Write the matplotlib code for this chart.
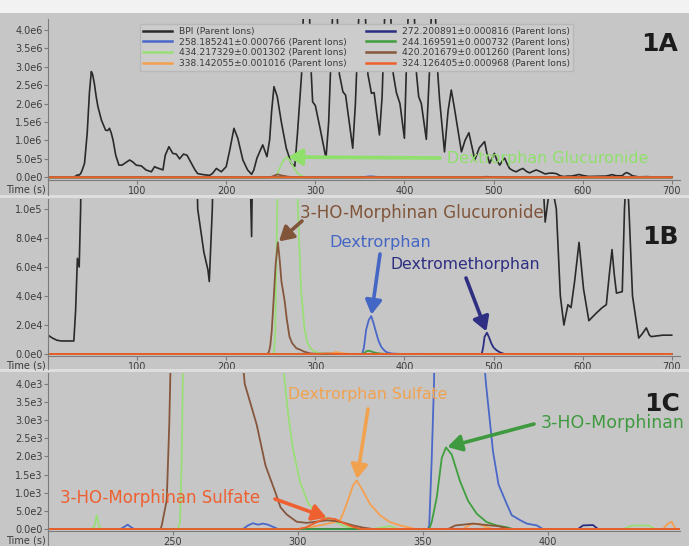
import matplotlib
matplotlib.use('Agg')
import matplotlib.pyplot as plt
import numpy as np
from matplotlib.lines import Line2D
from matplotlib.patches import Rectangle
from matplotlib.ticker import FuncFormatter

# ---------------- data ----------------
# BPI (Parent Ions): time (s), intensity (x1e6)
bpi_t = [0, 5, 10, 15, 20, 29, 31, 33, 35, 36.6, 38, 41, 44, 46.5, 48.6, 50, 52, 54, 56, 60,
         64.6, 67, 69, 71, 73, 76, 79.6, 83, 86, 91.6, 95, 99, 104.7, 110, 116, 119.6, 122,
         124.5, 129, 131.6, 135.7, 140, 144, 147.7, 152, 156, 161, 165, 168, 175, 179.5, 181,
         184.4, 189, 194.5, 200, 204, 208.7, 213, 218.7, 224, 228.5, 231, 234.5, 237.5, 241,
         245.7, 248.7, 251, 253.6, 257.3, 261.8, 267.4, 273, 277, 280, 284.6, 287, 290, 293,
         295.5, 297, 300, 305, 312, 315, 318, 321, 324, 327, 331, 334, 342, 345, 349, 352, 356,
         359, 363, 366, 372, 375, 378, 382, 385, 387.5, 391, 395, 400, 402, 405, 408, 411,
         413.6, 416, 419, 424.6, 428, 431, 433, 435.5, 437.5, 439.5, 445, 449, 452.6, 456, 460,
         464, 468, 472.4, 476, 479, 484, 490, 493, 495.6, 498, 501, 504, 507, 510, 512.6, 515,
         518, 522, 525.6, 529, 533, 537, 540.5, 544, 548, 552, 555.5, 558, 562, 566, 570.5,
         575, 579, 583.5, 587, 591, 596, 601, 607, 615, 622, 626.6, 630, 633, 635.5, 638,
         644.5, 647, 649.5, 652, 656, 663, 667, 671.5, 675, 677, 690, 700]
bpi_v = [0.013, 0.011, 0.0095, 0.009, 0.009, 0.009, 0.03, 0.066, 0.060, 0.10, 0.17, 0.38, 1.2,
         2.3, 2.87, 2.8, 2.55, 2.2, 1.92, 1.55, 1.28, 1.27, 1.33, 1.2, 1.01, 0.6, 0.33, 0.33,
         0.38, 0.47, 0.42, 0.33, 0.31, 0.2, 0.15, 0.29, 0.26, 0.24, 0.2, 0.6, 0.83, 0.65, 0.63,
         0.5, 0.63, 0.6, 0.38, 0.2, 0.10, 0.07, 0.058, 0.05, 0.10, 0.24, 0.15, 0.29, 0.74, 1.33,
         1.06, 0.47, 0.2, 0.081, 0.2, 0.52, 0.69, 0.88, 0.56, 1.01, 1.8, 2.46, 2.19, 1.51, 0.79,
         0.38, 0.3, 1.2, 2.8, 4.8, 6.2, 4.8, 2.8, 2.05, 1.95, 1.37, 0.52, 1.5, 3.5, 5.5, 4.8,
         2.8, 2.32, 2.23, 0.79, 2.0, 4.5, 6.0, 4.5, 2.8, 2.28, 2.3, 1.15, 2.2, 4.5, 5.8, 4.2,
         2.8, 2.3, 2.0, 1.06, 2.8, 5.0, 6.3, 4.5, 2.8, 2.19, 2.0, 1.03, 2.8, 5.0, 5.5, 4.0, 2.8,
         2.1, 0.69, 1.8, 2.37, 1.9, 1.3, 0.69, 1.0, 1.21, 0.8, 0.47, 0.8, 0.97, 0.6, 0.38, 0.5,
         0.65, 0.45, 0.33, 0.45, 0.52, 0.38, 0.24, 0.18, 0.15, 0.2, 0.24, 0.16, 0.12, 0.16, 0.2,
         0.16, 0.12, 0.091, 0.11, 0.115, 0.1, 0.04, 0.020, 0.034, 0.032, 0.05, 0.077, 0.045,
         0.023, 0.028, 0.032, 0.034, 0.055, 0.072, 0.055, 0.042, 0.043, 0.1, 0.13, 0.1, 0.04,
         0.011, 0.014, 0.018, 0.013, 0.012, 0.013, 0.013]

# 258.185241 (Dextrorphan): time, counts
m258_t = [0, 229, 230.5, 231.9, 233, 234.5, 278, 280, 282, 284, 286, 288, 290, 292, 352, 352.5,
          353.5, 354.4, 355.5, 357, 360, 362.8, 365, 368.5, 371, 374, 375.2, 378, 380.2, 383.5,
          385.5, 389, 391.5, 395.5, 398, 700]
m258_v = [0, 0, 60, 120, 60, 0, 0, 100, 160, 120, 150, 120, 60, 0, 0, 100, 1960, 4000, 9000,
          16600, 23500, 26200, 22000, 14300, 9000, 5000, 4000, 2140, 1230, 690, 380, 240, 150,
          100, 0, 0]

# 434.217329 (Dextrorphan Glucuronide)
m434_t = [0, 217, 218.5, 219.5, 220.5, 222, 252, 252.8, 253.5, 254, 255, 257.3, 260, 264, 268,
          272, 276, 280.5, 284, 288, 291, 294.5, 296, 298, 300.8, 304, 307.5, 311.5, 315, 318.5,
          322, 330, 334, 337, 340, 430, 434, 440, 443, 700]
m434_v = [0, 0, 50, 380, 50, 0, 0, 190, 2000, 4500, 15000, 100000, 250000, 450000, 550000,
          450000, 250000, 100000, 44000, 17000, 8000, 4200, 3200, 2200, 1300, 720, 420, 300,
          190, 80, 20, 0, 50, 80, 0, 0, 100, 100, 0, 0]

# 338.142055 (Dextrorphan Sulfate)
m338_t = [0, 300, 305, 310, 314, 316.8, 318, 320, 322, 323.5, 326, 328.8, 332.8, 336.8, 340.8,
          344, 347, 366, 369, 372, 375, 378, 446, 448, 449.5, 451, 700]
m338_v = [0, 0, 50, 120, 180, 240, 420, 800, 1200, 1340, 1050, 690, 380, 190, 100, 50, 0, 0,
          120, 150, 60, 0, 0, 150, 200, 0, 0]

# 272.200891 (Dextromethorphan)
m272_t = [0, 412, 414, 418, 420, 486, 487, 488.5, 490, 492.6, 495, 497.5, 500, 503, 507, 512.5, 700]
m272_v = [0, 0, 100, 110, 0, 0, 500, 5000, 12000, 14700, 11500, 7400, 4500, 2800, 1200, 0, 0]

# 244.169591 (3-HO-Morphinan)
m244_t = [0, 352.5, 353.5, 355.5, 357.5, 359.2, 361.5, 364.8, 368, 371.5, 375.5, 379.5, 383.5, 386, 700]
m244_v = [0, 0, 200, 870, 1960, 2250, 2050, 1320, 780, 420, 190, 100, 50, 0, 0]

# 420.201679 (3-HO-Morphinan Glucuronide)
m420_t = [0, 245, 245.5, 247.5, 248.5, 249.5, 251, 253, 255.5, 258, 260, 262, 265.5, 268, 271,
          274, 278.7, 283.5, 287, 291, 293, 295.5, 299.5, 303.5, 307, 311.5, 315, 318, 322, 326,
          330, 360, 363, 366, 370, 374, 380, 385, 700]
m420_v = [0, 0, 100, 800, 2870, 6000, 15000, 35000, 62000, 77000, 65000, 50000, 37000, 24000,
          12000, 7500, 4000, 2870, 1750, 1000, 600, 400, 200, 170, 200, 240, 220, 180, 100, 40,
          0, 0, 100, 120, 150, 120, 80, 0, 0]

# 324.126405 (3-HO-Morphinan Sulfate)
m324_t = [0, 300, 303, 306, 309, 312, 315, 318, 321, 325, 700]
m324_v = [0, 0, 40, 140, 240, 300, 270, 170, 80, 0, 0]

series_labels = ['BPI (Parent Ions)',
                 '258.185241\u00b10.000766 (Parent Ions)',
                 '434.217329\u00b10.001302 (Parent Ions)',
                 '338.142055\u00b10.001016 (Parent Ions)',
                 '272.200891\u00b10.000816 (Parent Ions)',
                 '244.169591\u00b10.000732 (Parent Ions)',
                 '420.201679\u00b10.001260 (Parent Ions)',
                 '324.126405\u00b10.000968 (Parent Ions)']
series_colors = ['#2a2a2a', '#4a68c8', '#9ade78', '#f5a050',
                 '#2b2d80', '#3f9f3f', '#86573d', '#f0602a']

series = [(bpi_t, np.array(bpi_v) * 1e6), (m258_t, m258_v), (m434_t, m434_v),
          (m338_t, m338_v), (m272_t, m272_v), (m244_t, m244_v), (m420_t, m420_v),
          (m324_t, m324_v)]

# ---------------- layout ----------------
W, H = 689, 546
BG = '#c6c6c6'
fig = plt.figure(figsize=(W / 100, H / 100), dpi=100, facecolor=BG)


def fx(px):
    return px / W


def fy(py):
    return 1 - py / H


fig.patches.append(Rectangle((0, fy(13)), 1, 13 / H, transform=fig.transFigure,
                             facecolor='#f2f2f2', edgecolor='none', zorder=0))
for ys in (195.5, 369.5):
    fig.patches.append(Rectangle((0, fy(ys + 2)), 1, 3 / H, transform=fig.transFigure,
                                 facecolor='#dedede', edgecolor='none', zorder=0))


def sci_fmt(v, pos):
    if abs(v) < 1e-12:
        return '0.0e0'
    e = int(np.floor(np.log10(abs(v)) + 1e-9))
    m = v / 10 ** e
    return f'{m:.1f}e{e}'


LEFT, RIGHT = 48, 680
panels = [
    dict(top=18.9, bot=180.0, xlim=(0, 709.3), ylim=(-0.073e6, 4.3e6),
         yt=np.arange(0, 4.01e6, 0.5e6), xt=range(100, 701, 100), pbot=195),
    dict(top=199.0, bot=356.2, xlim=(0, 709.3), ylim=(-1.5e3, 1.069e5),
         yt=np.arange(0, 1.01e5, 2e4), xt=range(100, 701, 100), pbot=369),
    dict(top=373.0, bot=531.0, xlim=(200, 452.8), ylim=(-54, 4300),
         yt=np.arange(0, 4001, 500), xt=range(250, 401, 50), pbot=546),
]

axes = []
for p in panels:
    ax = fig.add_axes([fx(LEFT), fy(p['bot']), (RIGHT - LEFT) / W, (p['bot'] - p['top']) / H])
    ax.set_facecolor(BG)
    lines = []
    for (t, v), c, lab in zip(series, series_colors, series_labels):
        lw = 1.2 if c == '#2a2a2a' else 1.3
        ln, = ax.plot(t, v, color=c, lw=lw, label=lab, solid_joinstyle='round')
        lines.append(ln)
    ax.set_xlim(*p['xlim'])
    ax.set_ylim(*p['ylim'])
    ax.set_yticks(p['yt'])
    ax.set_xticks(list(p['xt']))
    ax.yaxis.set_major_formatter(FuncFormatter(sci_fmt))
    for s in ('top', 'right'):
        ax.spines[s].set_visible(False)
    for s in ('left', 'bottom'):
        ax.spines[s].set_color('#7c7c7c')
        ax.spines[s].set_linewidth(0.8)
    ax.tick_params(direction='out', length=3, width=0.8, color='#7c7c7c',
                   labelsize=7, labelcolor='#3c3c3c', pad=1)
    fig.add_artist(Line2D([fx(LEFT), fx(LEFT)], [fy(p['bot']), fy(p['pbot'])],
                          color='#7c7c7c', lw=0.8, transform=fig.transFigure))
    fig.text(fx(46), fy(p['bot'] + 9.5), 'Time (s)', ha='right', va='center',
             fontsize=7, color='#3c3c3c')
    axes.append((ax, lines))

axA, linesA = axes[0]
axB = axes[1][0]
axC = axes[2][0]

leg = axA.legend(handles=linesA, loc='upper left', bbox_to_anchor=(fx(140), fy(24)),
                 bbox_transform=fig.transFigure, ncol=2, fontsize=6.6, frameon=True,
                 fancybox=False, facecolor='#cccccc', edgecolor='#b8b8b8', framealpha=1,
                 borderpad=0.3, labelspacing=0.2, handlelength=3.2, handletextpad=0.8,
                 columnspacing=2.0, borderaxespad=0)
for txt in leg.get_texts():
    txt.set_color('#3a3a3a')
for h in leg.get_lines():
    h.set_linewidth(1.8)

for lab, (px, py) in zip(['1A', '1B', '1C'], [(660, 44), (660, 237), (662, 404)]):
    fig.text(fx(px), fy(py), lab, fontsize=18, fontweight='bold', ha='center',
             va='center', color='#1c1c1c')


def peak(t, v):
    v = np.asarray(v, float)
    i = int(np.argmax(v))
    return t[i], v[i]


def label_arrow(ax, text, color, tpx, tail_px, tip, fs):
    fig.text(fx(tpx[0]), fy(tpx[1]), text, color=color, fontsize=fs, ha='left', va='center')
    ax.annotate('', xy=tip, xycoords='data',
                xytext=(fx(tail_px[0]), fy(tail_px[1])), textcoords='figure fraction',
                arrowprops=dict(arrowstyle='-|>,head_length=0.6,head_width=0.35',
                                lw=2.6, color=color, mutation_scale=14,
                                shrinkA=0, shrinkB=1),
                annotation_clip=False)


label_arrow(axA, 'Dextrorphan Glucuronide', '#8fe06a', (447, 158), (440, 158),
            peak(m434_t, m434_v), 11.4)
label_arrow(axB, '3-HO-Morphinan Glucuronide', '#80553a', (300, 213), (302, 221),
            peak(m420_t, m420_v), 12.1)
label_arrow(axB, 'Dextrorphan', '#4466c4', (329, 242), (380, 254),
            peak(m258_t, m258_v), 11.6)
label_arrow(axB, 'Dextromethorphan', '#2e2e82', (391, 265), (466, 278),
            peak(m272_t, m272_v), 11.3)
label_arrow(axC, 'Dextrorphan Sulfate', '#f2a24e', (288, 394), (368, 409),
            peak(m338_t, m338_v), 11.3)
label_arrow(axC, '3-HO-Morphinan', '#3f9a3f', (541, 423), (534, 424),
            peak(m244_t, m244_v), 12.5)
label_arrow(axC, '3-HO-Morphinan Sulfate', '#ee6030', (60, 498), (275, 499),
            peak(m324_t, m324_v), 12.0)

fig.savefig('out.png', dpi=100, facecolor=BG)
